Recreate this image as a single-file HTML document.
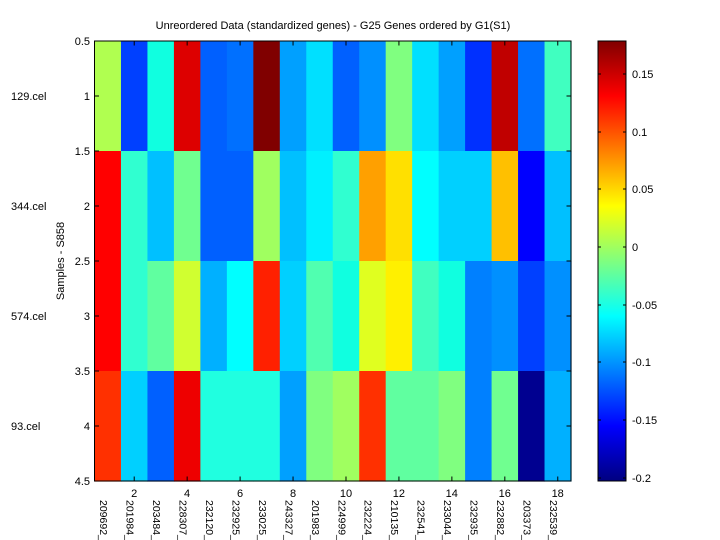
<!DOCTYPE html>
<html><head><meta charset="utf-8"><style>body{margin:0;background:#fff}svg{display:block}text{font-family:"Liberation Sans",sans-serif;font-size:11px;fill:#000}#gl text{font-size:10.5px}</style></head>
<body>
<svg id="s" width="720" height="540" viewBox="0 0 720 540" xmlns="http://www.w3.org/2000/svg">
<defs><linearGradient id="jet" x1="0" y1="1" x2="0" y2="0">
<stop offset="0" stop-color="#000080"/><stop offset="0.125" stop-color="#0000ff"/><stop offset="0.375" stop-color="#00ffff"/><stop offset="0.625" stop-color="#ffff00"/><stop offset="0.875" stop-color="#ff0000"/><stop offset="1" stop-color="#800000"/></linearGradient></defs>
<g id="cells"></g>
<rect x="94.5" y="41" width="476.5" height="440" fill="none" stroke="#000" stroke-width="1"/>
<g id="ticks" stroke="#000" stroke-width="1"></g>
<text x="333" y="29" text-anchor="middle">Unreordered Data (standardized genes) - G25 Genes ordered by G1(S1)</text>
<g text-anchor="end">
<text x="90" y="45">0.5</text><text x="90" y="100">1</text><text x="90" y="155">1.5</text><text x="90" y="210">2</text><text x="90" y="265">2.5</text><text x="90" y="320">3</text><text x="90" y="375">3.5</text><text x="90" y="430">4</text><text x="90" y="485">4.5</text>
</g>
<text x="11" y="100">129.cel</text><text x="11" y="210">344.cel</text><text x="11" y="320">574.cel</text><text x="11" y="430">93.cel</text>
<text transform="translate(64,261) rotate(-90)" text-anchor="middle">Samples - S858</text>
<g text-anchor="middle">
<text x="134.2" y="497">2</text><text x="187.1" y="497">4</text><text x="240.1" y="497">6</text><text x="293" y="497">8</text><text x="346" y="497">10</text><text x="398.9" y="497">12</text><text x="451.8" y="497">14</text><text x="504.8" y="497">16</text><text x="557.7" y="497">18</text>
</g>
<g id="gl">
<text transform="translate(100,500) rotate(90)">209692_</text>
<text transform="translate(126.5,500) rotate(90)">201984_</text>
<text transform="translate(153,500) rotate(90)">203484_</text>
<text transform="translate(179.4,500) rotate(90)">228307_</text>
<text transform="translate(205.9,500) rotate(90)">232120_</text>
<text transform="translate(232.4,500) rotate(90)">232925_</text>
<text transform="translate(258.9,500) rotate(90)">233025_</text>
<text transform="translate(285.3,500) rotate(90)">243327_</text>
<text transform="translate(311.8,500) rotate(90)">201983_</text>
<text transform="translate(338.3,500) rotate(90)">224999_</text>
<text transform="translate(364.7,500) rotate(90)">232224_</text>
<text transform="translate(391.2,500) rotate(90)">210135_</text>
<text transform="translate(417.7,500) rotate(90)">232541_</text>
<text transform="translate(444.1,500) rotate(90)">233044_</text>
<text transform="translate(470.6,500) rotate(90)">232935_</text>
<text transform="translate(497.1,500) rotate(90)">232882_</text>
<text transform="translate(523.6,500) rotate(90)">203373_</text>
<text transform="translate(550,500) rotate(90)">232539_</text>
</g>
<rect x="598" y="41" width="28" height="440" fill="url(#jet)" stroke="#000" stroke-width="1"/>
<g id="cbt" stroke="#000"></g>
<text x="632" y="78">0.15</text><text x="632" y="136">0.1</text><text x="632" y="193">0.05</text><text x="632" y="251">0</text><text x="632" y="309">-0.05</text><text x="632" y="366">-0.1</text><text x="632" y="424">-0.15</text><text x="632" y="482">-0.2</text>
</svg>
<script>
var C=[["b0ff50","0040ff","10ffe0","dd0000","0060ff","0070ff","800000","00a0ff","00e0ff","0060ff","0090ff","80ff80","00e0ff","00a0ff","0030ff","c00000","0070ff","40ffc0"],
["ff0000","30ffd0","00c0ff","70ff90","0060ff","0060ff","a0ff60","00c0ff","00f0ff","30ffd0","ffa000","ffe000","00ffff","00d0ff","00d0ff","ffc000","0000ff","00c0ff"],
["ff0000","30ffd0","60ffa0","d0ff30","00b0ff","00ffff","ff2000","00d0ff","50ffb0","10ffe0","e0ff20","fff000","40ffc0","10ffe0","0080ff","0090ff","0040ff","0090ff"],
["ff3000","00d0ff","0060ff","ee0000","20ffe0","20ffe0","20ffe0","00a0ff","80ff80","a0ff60","ff3000","60ffa0","60ffa0","80ff80","0080ff","70ff90","000090","00b0ff"]];
var ns="http://www.w3.org/2000/svg",g=document.getElementById("cells"),w=476.5/18;
function el(p,t,a){var e=document.createElementNS(ns,t);for(var k in a)e.setAttribute(k,a[k]);p.appendChild(e);}
for(var r=0;r<4;r++)for(var c=0;c<18;c++)el(g,"rect",{x:94.5+c*w,y:41+r*110,width:w+0.6,height:110.6,fill:"#"+C[r][c]});
var t=document.getElementById("ticks");
for(var i=0;i<9;i++){var y=41+i*55;el(t,"line",{x1:94.5,y1:y,x2:99,y2:y});el(t,"line",{x1:571,y1:y,x2:566.5,y2:y});}
for(var c=2;c<=18;c+=2){var x=94.5+(c-0.5)*w;el(t,"line",{x1:x,y1:481,x2:x,y2:476.5});el(t,"line",{x1:x,y1:41,x2:x,y2:45.5});}
var cb=document.getElementById("cbt");
[74,132,189,247,305,362,420,478].forEach(function(y){el(cb,"line",{x1:598,y1:y,x2:601,y2:y});el(cb,"line",{x1:626,y1:y,x2:623,y2:y});});
</script>
</body></html>
